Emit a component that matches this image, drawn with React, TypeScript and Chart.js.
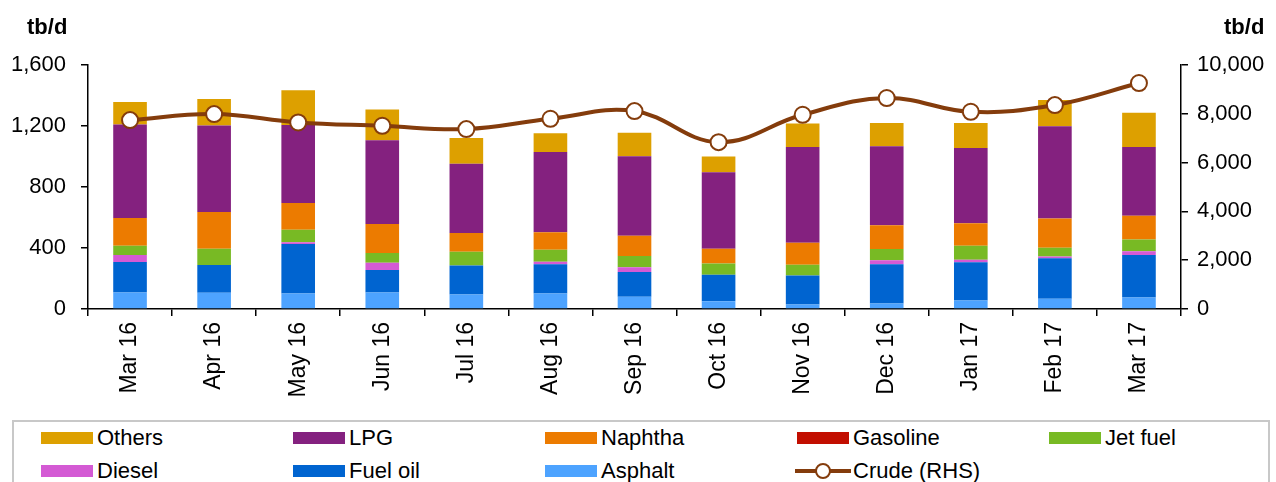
import React, { useEffect, useRef } from 'react';
import { Chart, registerables } from 'chart.js';

Chart.register(...registerables);

const FONT = "'Liberation Sans', Arial, sans-serif";

const categories = ['Mar 16', 'Apr 16', 'May 16', 'Jun 16', 'Jul 16', 'Aug 16', 'Sep 16', 'Oct 16', 'Nov 16', 'Dec 16', 'Jan 17', 'Feb 17', 'Mar 17'];
const asphalt = [108, 106, 102, 108, 95, 102, 80, 51, 30, 36, 56, 67, 76];
const fuelOil = [200, 182, 324, 147, 191, 192, 162, 174, 190, 258, 250, 265, 278];
const diesel = [46, 0, 11, 48, 0, 16, 31, 0, 0, 25, 17, 13, 24];
const jetFuel = [61, 107, 83, 64, 90, 79, 74, 74, 70, 74, 92, 57, 77];
const gasoline = [0, 0, 0, 0, 0, 0, 0, 0, 0, 0, 0, 0, 0];
const naphtha = [182, 241, 175, 190, 122, 114, 134, 96, 145, 156, 147, 191, 157];
const lpg = [613, 568, 511, 550, 454, 527, 521, 502, 628, 519, 493, 606, 451];
const others = [147, 173, 229, 202, 170, 123, 153, 103, 154, 151, 164, 171, 224];
const crude = [7741, 7988, 7646, 7508, 7372, 7795, 8111, 6838, 7960, 8645, 8083, 8357, 9261];

const leftTicks = [0, 400, 800, 1200, 1600];
const rightTicks = [0, 2000, 4000, 6000, 8000, 10000];

const COLORS: Record<string, string> = {
  Others: '#DDA000',
  LPG: '#84217F',
  Naphtha: '#EC7B00',
  Gasoline: '#C20E00',
  'Jet fuel': '#78BA24',
  Diesel: '#D45AD4',
  'Fuel oil': '#0064D0',
  Asphalt: '#4DA3FF',
  'Crude (RHS)': '#843C0C',
};

const barSeries: [string, number[]][] = [
  ['Asphalt', asphalt],
  ['Fuel oil', fuelOil],
  ['Diesel', diesel],
  ['Jet fuel', jetFuel],
  ['Gasoline', gasoline],
  ['Naphtha', naphtha],
  ['LPG', lpg],
  ['Others', others],
];

const legendOrder = ['Others', 'LPG', 'Naphtha', 'Gasoline', 'Jet fuel', 'Diesel', 'Fuel oil', 'Asphalt', 'Crude (RHS)'];

const fmt = (v: number) => Number(v).toLocaleString('en-US');

export default function App() {
  const ref = useRef<HTMLCanvasElement>(null);

  useEffect(() => {
    document.body.style.margin = '0';
    const datasets: any[] = barSeries.map(([name, vals]) => ({
      type: 'bar',
      label: name,
      data: vals,
      backgroundColor: COLORS[name],
      borderWidth: 0,
      stack: 's',
      yAxisID: 'y',
      order: 1,
      categoryPercentage: 1,
      barPercentage: 0.4,
    }));
    datasets.push({
      type: 'line',
      label: 'Crude (RHS)',
      data: crude,
      yAxisID: 'y1',
      borderColor: COLORS['Crude (RHS)'],
      borderWidth: 4,
      tension: 0.4,
      pointRadius: 8,
      pointBackgroundColor: '#FFFFFF',
      pointBorderColor: COLORS['Crude (RHS)'],
      pointBorderWidth: 2,
      order: 0,
    });

    const chart = new Chart(ref.current!, {
      type: 'bar',
      data: { labels: categories, datasets },
      options: {
        animation: false,
        responsive: true,
        maintainAspectRatio: false,
        layout: { padding: { top: 65, left: 0, right: 0, bottom: 0 } },
        plugins: { legend: { display: false }, tooltip: { enabled: false }, title: { display: false } },
        scales: {
          x: {
            stacked: true,
            offset: true,
            grid: { display: true, drawOnChartArea: false, drawTicks: true, tickLength: 7, color: '#000', lineWidth: 1.5, offset: true },
            border: { display: true, color: '#000', width: 1.5 },
            ticks: { color: '#000', font: { family: FONT, size: 23 }, minRotation: 90, maxRotation: 90, padding: 6, autoSkip: false },
            afterFit: (s: any) => { s.height = 111; },
          },
          y: {
            type: 'linear',
            position: 'left',
            stacked: true,
            min: leftTicks[0],
            max: leftTicks[leftTicks.length - 1],
            afterBuildTicks: (s: any) => { s.ticks = leftTicks.map((v) => ({ value: v })); },
            grid: { display: true, drawOnChartArea: false, drawTicks: true, tickLength: 7, color: '#000', lineWidth: 1.5 },
            border: { display: true, color: '#000', width: 1.5 },
            ticks: { color: '#000', font: { family: FONT, size: 22 }, padding: 15, callback: (v: any) => fmt(v) },
            afterFit: (s: any) => { s.width = 88; },
          },
          y1: {
            type: 'linear',
            position: 'right',
            stacked: false,
            min: rightTicks[0],
            max: rightTicks[rightTicks.length - 1],
            afterBuildTicks: (s: any) => { s.ticks = rightTicks.map((v) => ({ value: v })); },
            grid: { display: true, drawOnChartArea: false, drawTicks: true, tickLength: 7, color: '#000', lineWidth: 1.5 },
            border: { display: true, color: '#000', width: 1.5 },
            ticks: { color: '#000', font: { family: FONT, size: 22 }, padding: 9, callback: (v: any) => fmt(v) },
            afterFit: (s: any) => { s.width = 95; },
          },
        },
      } as any,
    });
    return () => chart.destroy();
  }, []);

  const colX = [41, 293, 545, 797, 1049];
  const rowY = [438, 471];

  return (
    <div style={{ position: 'relative', width: 1276, height: 482, background: '#fff', overflow: 'hidden', fontFamily: FONT }}>
      <div style={{ position: 'absolute', left: 0, top: 0, width: 1276, height: 420 }}>
        <canvas ref={ref} />
      </div>
      <div style={{ position: 'absolute', left: 27, top: 15, fontSize: 22, fontWeight: 'bold', color: '#000', lineHeight: '24px' }}>tb/d</div>
      <div style={{ position: 'absolute', left: 1224, top: 15, fontSize: 22, fontWeight: 'bold', color: '#000', lineHeight: '24px' }}>tb/d</div>
      <div style={{ position: 'absolute', left: 12, top: 420, width: 1258, height: 80, border: '2px solid #C8C8C8', boxSizing: 'border-box' }} />
      {legendOrder.map((name, i) => {
        const col = i % 5;
        const row = Math.floor(i / 5);
        const x = colX[col];
        const y = rowY[row];
        const isLine = name === 'Crude (RHS)';
        return (
          <div key={name}>
            {isLine ? (
              <svg style={{ position: 'absolute', left: x - 2, top: y - 10 }} width={56} height={20}>
                <line x1={0} y1={10} x2={56} y2={10} stroke={COLORS[name]} strokeWidth={4} />
                <circle cx={28} cy={10} r={7} fill="#fff" stroke={COLORS[name]} strokeWidth={2} />
              </svg>
            ) : (
              <div style={{ position: 'absolute', left: x, top: y - 6, width: 52, height: 12, background: COLORS[name] }} />
            )}
            <div style={{ position: 'absolute', left: x + 56, top: y - 13, fontSize: 22, lineHeight: '26px', color: '#000', whiteSpace: 'nowrap' }}>{name}</div>
          </div>
        );
      })}
    </div>
  );
}
